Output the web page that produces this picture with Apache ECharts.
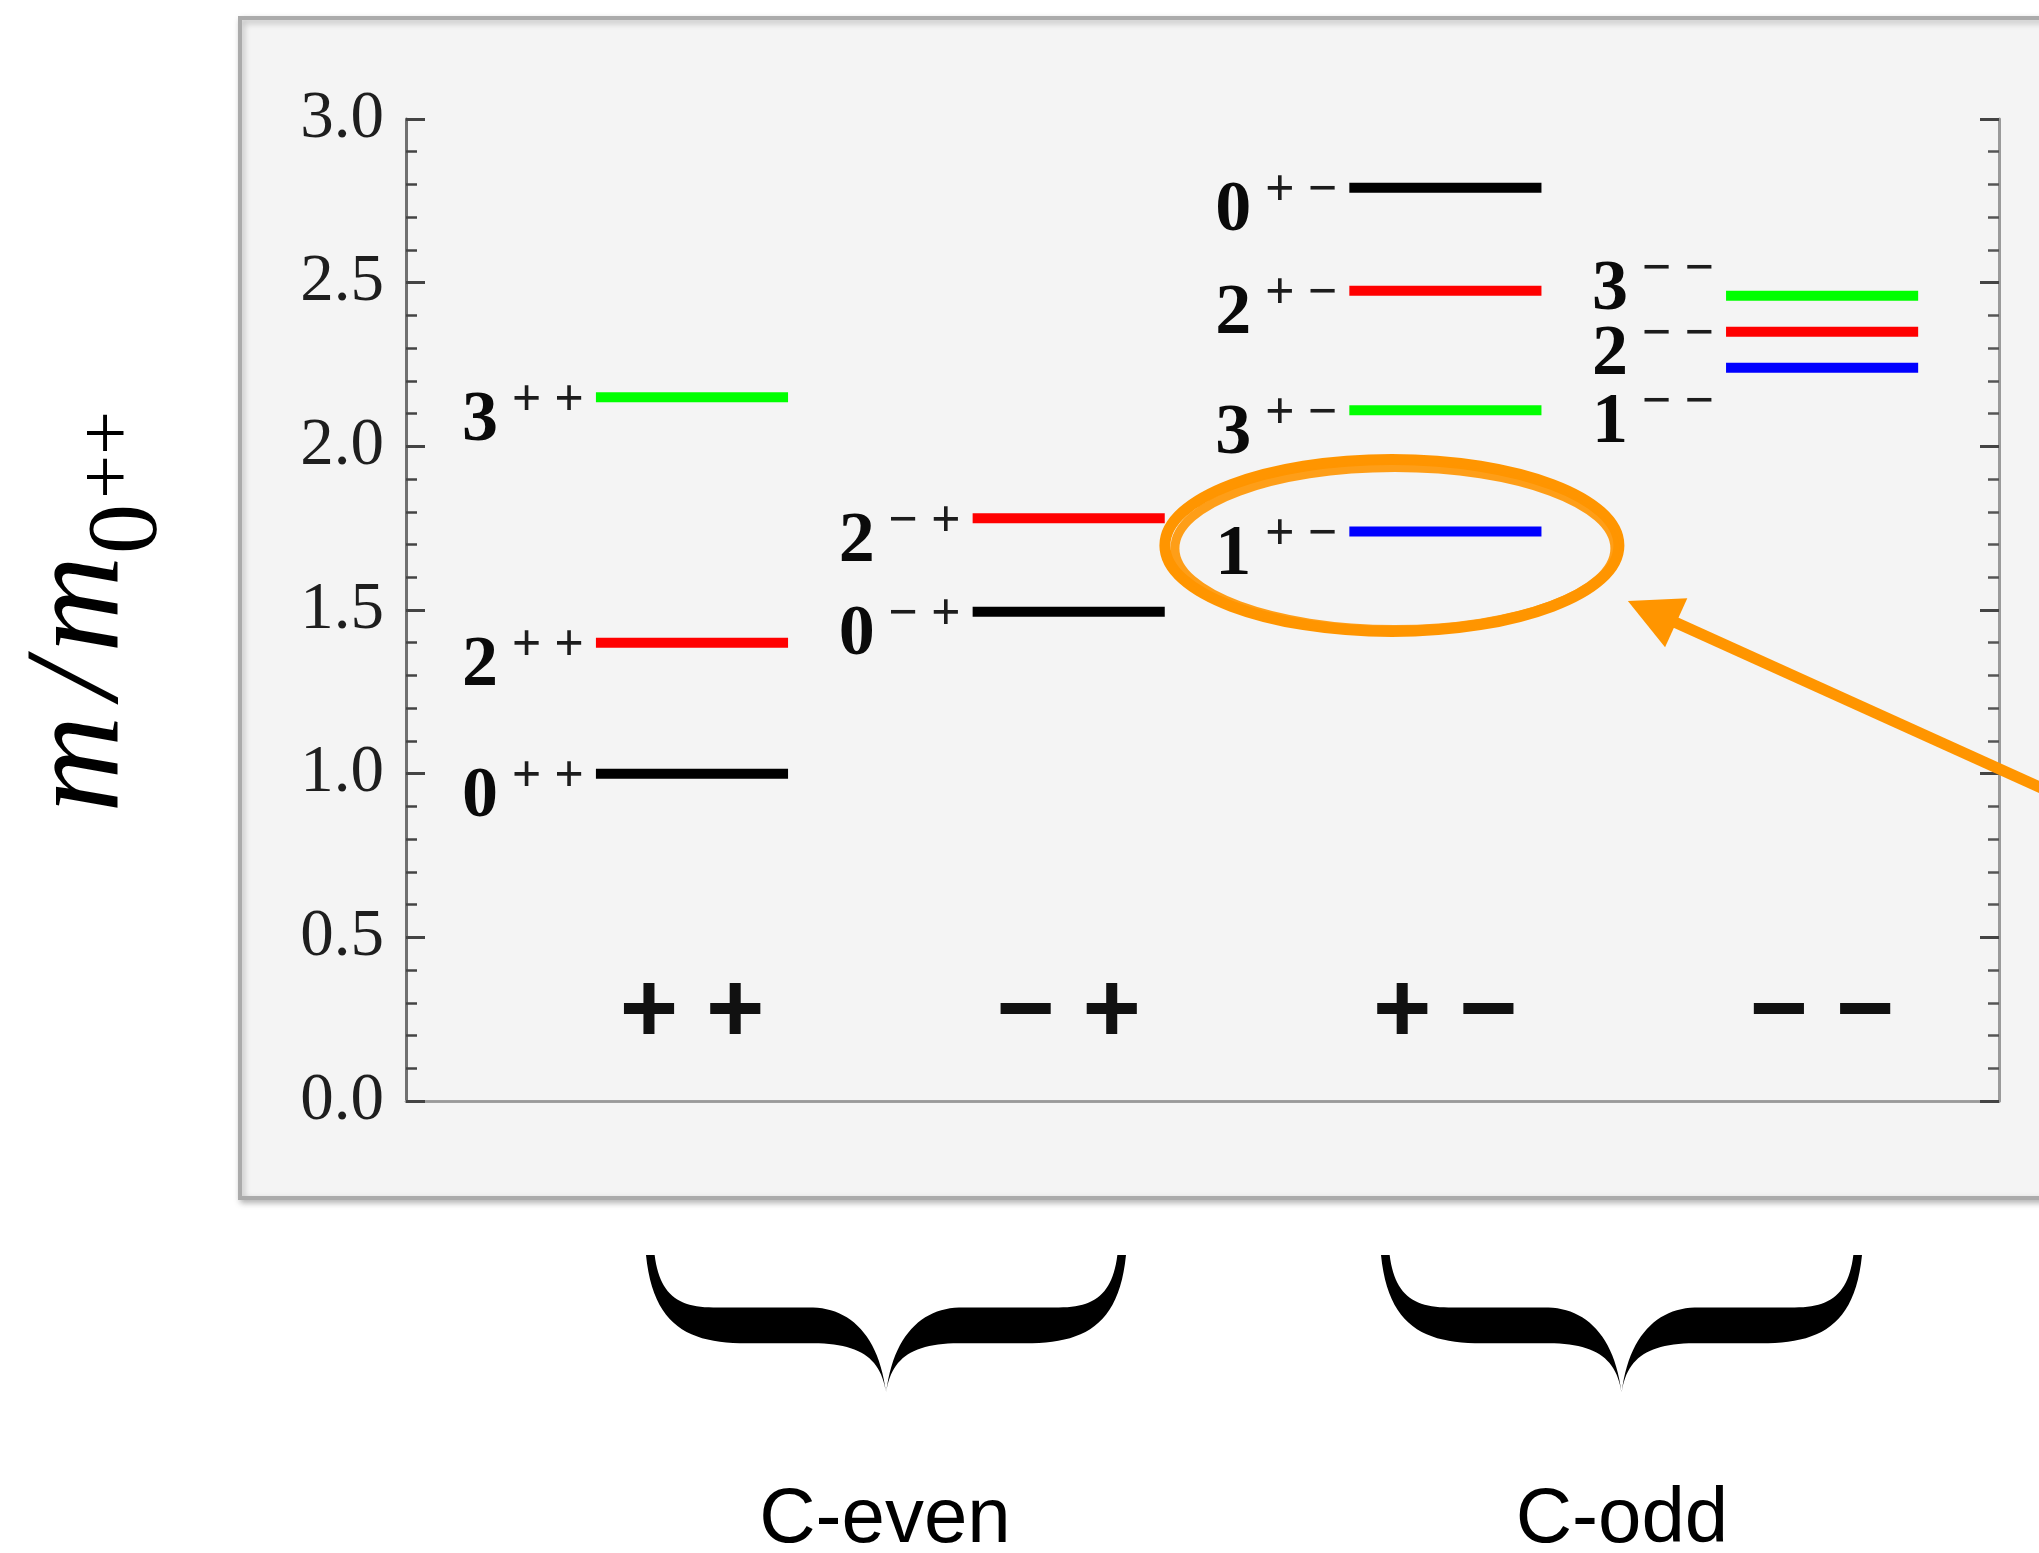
<!DOCTYPE html>
<html><head><meta charset="utf-8">
<script src="https://cdn.jsdelivr.net/npm/echarts@6/dist/echarts.min.js"></script>
<style>html,body{margin:0;padding:0;background:#fff}#c{width:2039px;height:1553px}</style>
</head><body><div id="c"></div>
<script>
// ---------------- data ----------------
const pcKeys       = ['++', '-+', '+-', '--'];
const pcCategories = ['+ +', '\u2212 +', '+ \u2212', '\u2212 \u2212'];
const stateJ    = [0,    2,    3,    0,     2,    0,    2,     3,    1,    3,    2,    1   ];
const statePC   = ['++', '++', '++', '-+',  '-+', '+-', '+-',  '+-', '+-', '--', '--', '--'];
const stateMass = [1.00, 1.40, 2.15, 1.495, 1.78, 2.79, 2.475, 2.11, 1.74, 2.46, 2.35, 2.24];
const yTicks    = [0.0, 0.5, 1.0, 1.5, 2.0, 2.5, 3.0];
const groupNames = ['C-even', 'C-odd'];

// ---------------- layout / style ----------------
const X_MIN = 0.2408, X_MAX = 4.4696;      // column centres sit at 1..4
const LEVEL_HALF = 0.255;
const PC_LABEL_LEVEL = 0.265;
const jColors = {0: '#000000', 1: '#0000ff', 2: '#ff0000', 3: '#00ff00'};
const labelNudge = {'3--': -29, '1--': 32};
const ORANGE = '#ff9500';

const levelData = stateMass.map((m, i) => [pcKeys.indexOf(statePC[i]) + 1, m, stateJ[i]]);
const pcData = pcCategories.map((c, i) => [i + 1, PC_LABEL_LEVEL]);

function txt(x, y, text, font, fill, align, valign, extra) {
  return Object.assign({
    type: 'text', x: x, y: y,
    style: {text: text, font: font, fill: fill,
            align: align, textAlign: align, verticalAlign: valign, textVerticalAlign: valign}
  }, extra || {});
}

function renderLevel(params, api) {
  const col = api.value(0), m = api.value(1), J = api.value(2);
  const i = params.dataIndex;
  const a = api.coord([col - LEVEL_HALF, m]);
  const b = api.coord([col + LEVEL_HALF, m]);
  const dy = labelNudge[J + statePC[i]] || 0;
  const ly = a[1] + dy;
  return {
    type: 'group',
    children: [
      {type: 'line', shape: {x1: a[0], y1: a[1], x2: b[0], y2: b[1]},
       style: {stroke: jColors[J], lineWidth: 10, lineCap: 'butt'}},
      txt(a[0] - 12, ly + 4, pcCategories[col - 1], 'bold 52px "Liberation Serif"', '#1c1c1c', 'right', 'middle'),
      txt(a[0] - 134, ly + 24, String(J), 'bold 72px "Liberation Serif"', '#0a0a0a', 'left', 'middle')
    ]
  };
}

function renderPC(params, api) {
  const c = api.coord([api.value(0), api.value(1)]);
  return txt(c[0], c[1], pcCategories[params.dataIndex], 'bold 100px "Liberation Sans"', '#111', 'center', 'middle');
}

// brace polygon (filled), normalized path sampled from cubic beziers
function bracePoints(xL, xR, yT, yB) {
  const W = xR - xL, H = yB - yT;
  const segs = [
    ['M', [0, 0]],
    ['C', [0.015, 0.52], [0.09, 0.64], [0.21, 0.64]],
    ['L', [0.36, 0.64]],
    ['C', [0.45, 0.65], [0.49, 0.76], [0.5, 1.0]],
    ['C', [0.51, 0.76], [0.55, 0.65], [0.64, 0.64]],
    ['L', [0.79, 0.64]],
    ['C', [0.91, 0.64], [0.985, 0.52], [1, 0]],
    ['L', [0.982, 0]],
    ['C', [0.972, 0.28], [0.935, 0.38], [0.86, 0.38]],
    ['L', [0.652, 0.38]],
    ['C', [0.575, 0.39], [0.515, 0.58], [0.5, 1.0]],
    ['C', [0.485, 0.58], [0.425, 0.39], [0.348, 0.38]],
    ['L', [0.14, 0.38]],
    ['C', [0.065, 0.38], [0.028, 0.28], [0.018, 0]]
  ];
  const pts = [];
  let cur = null;
  segs.forEach(s => {
    if (s[0] === 'M' || s[0] === 'L') { cur = s[1]; pts.push(cur); }
    else {
      const p0 = cur, p1 = s[1], p2 = s[2], p3 = s[3];
      for (let k = 1; k <= 24; k++) {
        const t = k / 24, u = 1 - t;
        pts.push([
          u*u*u*p0[0] + 3*u*u*t*p1[0] + 3*u*t*t*p2[0] + t*t*t*p3[0],
          u*u*u*p0[1] + 3*u*u*t*p1[1] + 3*u*t*t*p2[1] + t*t*t*p3[1]
        ]);
      }
      cur = p3;
    }
  });
  return pts.map(p => [xL + p[0] * W, yT + p[1] * H]);
}

const chart = echarts.init(document.getElementById('c'), null, {renderer: 'canvas'});

const tickStyle = {color: '#444', width: 3};
const option = {
  animation: false,
  backgroundColor: '#ffffff',
  grid: {left: 406, top: 119, width: 1593, height: 982, show: false},
  xAxis: [
    {type: 'value', position: 'bottom', min: X_MIN, max: X_MAX,
     axisLine: {show: true, lineStyle: {color: '#9a9a9a', width: 2.5}},
     axisTick: {show: false}, axisLabel: {show: false}, splitLine: {show: false}},
    {type: 'value', position: 'top', min: X_MIN, max: X_MAX,
     axisLine: {show: true, lineStyle: {color: '#9a9a9a', width: 2.5}},
     axisTick: {show: false}, axisLabel: {show: false}, splitLine: {show: false}}
  ],
  yAxis: [
    {type: 'value', position: 'left', min: yTicks[0], max: yTicks[yTicks.length - 1],
     interval: yTicks[1] - yTicks[0],
     axisLine: {show: true, lineStyle: {color: '#707070', width: 3}},
     axisTick: {show: true, inside: true, length: 19, lineStyle: tickStyle},
     minorTick: {show: true, splitNumber: 5, length: 11, lineStyle: {color: '#444', width: 2.5}},
     splitLine: {show: false},
     axisLabel: {show: true, showMinLabel: true, showMaxLabel: true, margin: 22,
                 formatter: v => v.toFixed(1),
                 fontFamily: 'Liberation Serif', fontSize: 67, color: '#1e1e1e'}},
    {type: 'value', position: 'right', min: yTicks[0], max: yTicks[yTicks.length - 1],
     interval: yTicks[1] - yTicks[0],
     axisLine: {show: true, lineStyle: {color: '#9a9a9a', width: 3}},
     axisTick: {show: true, inside: true, length: 19, lineStyle: tickStyle},
     minorTick: {show: true, splitNumber: 5, length: 11, lineStyle: {color: '#555', width: 2.5}},
     splitLine: {show: false}, axisLabel: {show: false}}
  ],
  series: [
    {type: 'custom', name: 'levels', xAxisIndex: 0, yAxisIndex: 0, z: 5,
     data: levelData, renderItem: renderLevel, silent: true},
    {type: 'custom', name: 'PC', xAxisIndex: 0, yAxisIndex: 0, z: 5,
     data: pcData, renderItem: renderPC, silent: true}
  ],
  graphic: {elements: [
    {type: 'rect', z: -10, shape: {x: 240, y: 18, width: 1900, height: 1180},
     style: {fill: '#f4f4f4', stroke: '#ababab', lineWidth: 4,
             shadowBlur: 6, shadowOffsetX: 2, shadowOffsetY: 3, shadowColor: 'rgba(0,0,0,0.25)'}},
    // y-axis title m/m_{0^{++}}
    txt(82, 764, 'm', 'italic 134px "Liberation Serif"', '#000', 'center', 'middle', {rotation: Math.PI / 2}),
    txt(82, 680, '/', 'italic 134px "Liberation Serif"', '#000', 'center', 'middle', {rotation: Math.PI / 2}),
    txt(82, 604, 'm', 'italic 134px "Liberation Serif"', '#000', 'center', 'middle', {rotation: Math.PI / 2}),
    txt(129, 529, '0', '100px "Liberation Serif"', '#000', 'center', 'middle', {rotation: Math.PI / 2}),
    txt(111, 455, '++', '78px "Liberation Serif"', '#000', 'center', 'middle', {rotation: Math.PI / 2}),
    // braces and group names
    {type: 'polygon', shape: {points: bracePoints(646, 1126, 1255, 1393)}, style: {fill: '#000'}},
    {type: 'polygon', shape: {points: bracePoints(1381, 1862, 1255, 1393)}, style: {fill: '#000'}},
    txt(885, 1520, groupNames[0], '78px "Liberation Sans"', '#000', 'center', 'middle'),
    txt(1622, 1520, groupNames[1], '78px "Liberation Sans"', '#000', 'center', 'middle')
  ]}
};
chart.setOption(option);

// annotation: ellipse around the 1+- level and an arrow pointing at it
const idx1pm = stateJ.findIndex((j, i) => j === 1 && statePC[i] === '+-');
const c1 = chart.convertToPixel({xAxisIndex: 0, yAxisIndex: 0}, [pcKeys.indexOf('+-') + 1, stateMass[idx1pm]]);
const ec = [c1[0] - 53.5, c1[1] + 14];
const tip = [ec[0] + 236, ec[1] + 55.5];
const dir = [0.911, 0.412];
const tail = [tip[0] + dir[0] * 480, tip[1] + dir[1] * 480];
const headL = 53, headW = 27;
const base = [tip[0] + dir[0] * headL, tip[1] + dir[1] * headL];
const nrm = [-dir[1], dir[0]];
chart.setOption({graphic: {elements: option.graphic.elements.concat([
  {type: 'ellipse', z: 50, shape: {cx: ec[0], cy: ec[1], rx: 227, ry: 86},
   style: {fill: 'none', stroke: ORANGE, lineWidth: 11}},
  {type: 'ellipse', z: 50, shape: {cx: ec[0] + 3, cy: ec[1] + 3, rx: 220, ry: 81},
   style: {fill: 'none', stroke: ORANGE, lineWidth: 9, opacity: 0.9}},
  {type: 'line', z: 50, shape: {x1: tail[0], y1: tail[1], x2: base[0] - dir[0] * 4, y2: base[1] - dir[1] * 4},
   style: {stroke: ORANGE, lineWidth: 11}},
  {type: 'polygon', z: 50, shape: {points: [tip,
     [base[0] + nrm[0] * headW, base[1] + nrm[1] * headW],
     [base[0] - nrm[0] * headW, base[1] - nrm[1] * headW]]},
   style: {fill: ORANGE}}
])}});
</script>
</body></html>
